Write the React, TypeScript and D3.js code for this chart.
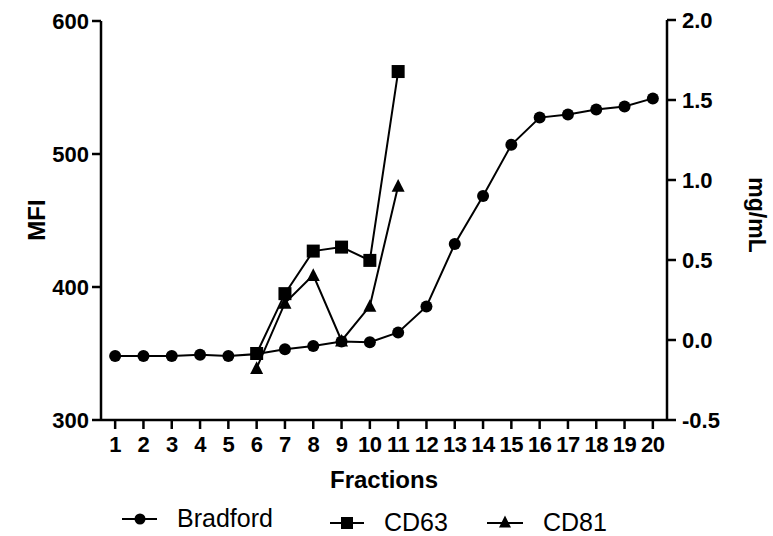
import React from "react";
import * as d3 from "d3";

const fractions = [1, 2, 3, 4, 5, 6, 7, 8, 9, 10, 11, 12, 13, 14, 15, 16, 17, 18, 19, 20];
const bradford = [-0.1, -0.1, -0.1, -0.092, -0.1, -0.088, -0.058, -0.038, -0.01, -0.014, 0.047, 0.21, 0.6, 0.9, 1.22, 1.39, 1.41, 1.44, 1.46, 1.51];
const cd63Fractions = [6, 7, 8, 9, 10, 11];
const cd63 = [350, 395, 427, 430, 420, 562];
const cd81Fractions = [6, 7, 8, 9, 10, 11];
const cd81 = [339, 388, 409, 359.6, 385.7, 476];
const leftTicks = [300, 400, 500, 600];
const rightTicks = [-0.5, 0.0, 0.5, 1.0, 1.5, 2.0];

const FONT = "'Liberation Sans', Arial, sans-serif";

export default function App() {
  const W = 773, H = 536;
  const x = d3.scaleLinear().domain([0.5, 20.5]).range([101, 667]);
  const yL = d3.scaleLinear().domain([300, 600]).range([420, 21]);
  const yR = d3.scaleLinear().domain([-0.5, 2.0]).range([420, 20]);

  const line = d3.line<[number, number]>().x(d => d[0]).y(d => d[1]);
  const bPts: [number, number][] = fractions.map((f, i) => [x(f), yR(bradford[i])]);
  const c63Pts: [number, number][] = cd63Fractions.map((f, i) => [x(f), yL(cd63[i])]);
  const c81Pts: [number, number][] = cd81Fractions.map((f, i) => [x(f), yL(cd81[i])]);

  const tri = (cx: number, cy: number, s: number) => {
    const h = s * 0.9;
    return `M${cx},${cy - h / 2 - 1}L${cx + s / 2},${cy + h / 2}L${cx - s / 2},${cy + h / 2}Z`;
  };

  const axisW = 2.5;
  return (
    <svg width={W} height={H} style={{ position: "absolute", left: 0, top: 0, background: "#fff" }}>
      {/* Axes */}
      <g stroke="#000" strokeWidth={axisW} fill="none">
        <line x1={101} y1={yL(600)} x2={101} y2={420} />
        <line x1={667} y1={yR(2.0)} x2={667} y2={420} />
        <line x1={101} y1={420} x2={667} y2={420} />
        {leftTicks.map(t => (
          <line key={"lt" + t} x1={92} x2={101} y1={yL(t)} y2={yL(t)} />
        ))}
        {rightTicks.map(t => (
          <line key={"rt" + t} x1={667} x2={676} y1={yR(t)} y2={yR(t)} />
        ))}
        {fractions.map(f => (
          <line key={"xt" + f} x1={x(f)} x2={x(f)} y1={420} y2={429} />
        ))}
      </g>
      <g fontFamily={FONT} fontWeight="bold" fontSize={22} fill="#000">
        {leftTicks.map(t => (
          <text key={"ll" + t} x={89} y={yL(t)} dy="0.36em" textAnchor="end">{t}</text>
        ))}
        {rightTicks.map(t => (
          <text key={"rl" + t} x={682} y={yR(t)} dy="0.36em" textAnchor="start">{d3.format(".1f")(t).replace("−", "-")}</text>
        ))}
        {fractions.map(f => (
          <text key={"xl" + f} x={x(f)} y={452} textAnchor="middle" letterSpacing={-0.5}>{f}</text>
        ))}
        <text x={384} y={488} textAnchor="middle" fontSize={24}>Fractions</text>
        <text transform="translate(45,220) rotate(-90)" textAnchor="middle" fontSize={24}>MFI</text>
        <text transform="translate(749,215) rotate(90)" textAnchor="middle" fontSize={23}>mg/mL</text>
      </g>

      {/* Series lines */}
      <g stroke="#000" strokeWidth={2} fill="none">
        <path d={line(bPts) || ""} />
        <path d={line(c63Pts) || ""} />
        <path d={line(c81Pts) || ""} />
      </g>
      {/* Markers */}
      <g fill="#000">
        {bPts.map((p, i) => <circle key={"b" + i} cx={p[0]} cy={p[1]} r={6} />)}
        {c63Pts.map((p, i) => <rect key={"s" + i} x={p[0] - 6.5} y={p[1] - 6.5} width={13} height={13} />)}
        {c81Pts.map((p, i) => <path key={"t" + i} d={tri(p[0], p[1], 13)} />)}
      </g>

      {/* Legend */}
      <g stroke="#000" strokeWidth={2}>
        <line x1={122} x2={157} y1={519} y2={519} />
        <line x1={330} x2={364} y1={523} y2={523} />
        <line x1={487} x2={523} y1={523} y2={523} />
      </g>
      <g fill="#000">
        <circle cx={140} cy={519} r={5.5} />
        <rect x={341} y={517} width={12} height={12} />
        <path d={tri(505, 522, 12)} />
      </g>
      <g fontFamily={FONT} fontSize={25} fill="#000">
        <text x={177} y={527}>Bradford</text>
        <text x={384} y={531}>CD63</text>
        <text x={543} y={531}>CD81</text>
      </g>
    </svg>
  );
}
